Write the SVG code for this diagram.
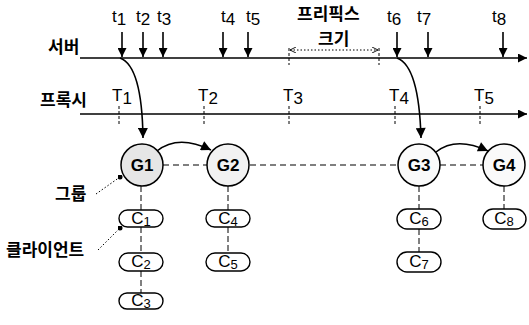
<svg xmlns="http://www.w3.org/2000/svg" width="529" height="325" viewBox="0 0 529 325">
<defs>
<marker id="ah" viewBox="0 0 10 10" refX="10" refY="5" markerWidth="13" markerHeight="9" markerUnits="userSpaceOnUse" orient="auto"><path d="M0,0 L10,5 L0,10 Z" fill="#000"/></marker>
<marker id="ahBig" viewBox="0 0 10 10" refX="10" refY="5" markerWidth="14" markerHeight="10" markerUnits="userSpaceOnUse" orient="auto"><path d="M0,0 L10,5 L0,10 Z" fill="#000"/></marker>
<marker id="ahT" viewBox="0 0 10 10" refX="10" refY="5" markerWidth="13" markerHeight="9" markerUnits="userSpaceOnUse" orient="auto"><path d="M0,0 L10,5 L0,10 Z" fill="#000"/></marker>
<marker id="open" viewBox="0 0 10 10" refX="10" refY="5" markerWidth="6" markerHeight="6" markerUnits="userSpaceOnUse" orient="auto-start-reverse"><path d="M0,0 L10,5 L0,10" fill="none" stroke="#000" stroke-width="1.5"/></marker>
<marker id="dot" viewBox="0 0 10 10" refX="5" refY="5" markerWidth="5" markerHeight="5" markerUnits="userSpaceOnUse"><circle cx="5" cy="5" r="5" fill="#000"/></marker>
</defs>
<style>
text{font-family:"Liberation Sans","Noto Sans CJK KR",Arial,sans-serif;fill:#000}
.kr{font-size:17px;font-weight:bold;font-family:"Noto Sans CJK KR","Liberation Sans",sans-serif}
.tl{font-size:17px}
.g{font-size:17px;font-weight:bold;text-anchor:middle}
.c{font-size:17px;text-anchor:middle}
.line{stroke:#000;stroke-width:1.6;fill:none}
.tick{stroke:#000;stroke-width:1;stroke-dasharray:3,2;fill:none}
.dash{stroke:#000;stroke-width:1.1;stroke-dasharray:6,4;fill:none}
.vdash{stroke:#000;stroke-width:1;stroke-dasharray:6,3;fill:none}
.dotted{stroke:#000;stroke-width:1;stroke-dasharray:1.5,2;fill:none}
.circ{stroke:#000;stroke-width:1.5}
.pill{stroke:#000;stroke-width:1.4;fill:#fff}
</style>
<g id="connectors">
<line class="line" x1="80" y1="58" x2="527" y2="58" marker-end="url(#ahT)"/>
<line class="line" x1="80" y1="114" x2="527" y2="114" marker-end="url(#ahT)"/>
<line class="line" x1="122" y1="32" x2="122" y2="57" marker-end="url(#ah)"/>
<line class="line" x1="143" y1="32" x2="143" y2="57" marker-end="url(#ah)"/>
<line class="line" x1="163" y1="32" x2="163" y2="57" marker-end="url(#ah)"/>
<line class="line" x1="223" y1="32" x2="223" y2="57" marker-end="url(#ah)"/>
<line class="line" x1="248" y1="32" x2="248" y2="57" marker-end="url(#ah)"/>
<line class="line" x1="397" y1="32" x2="397" y2="57" marker-end="url(#ah)"/>
<line class="line" x1="428" y1="32" x2="428" y2="57" marker-end="url(#ah)"/>
<line class="line" x1="503" y1="32" x2="503" y2="57" marker-end="url(#ah)"/>
<line class="tick" x1="289" y1="48" x2="289" y2="65"/>
<line class="tick" x1="379" y1="48" x2="379" y2="65"/>
<line class="dotted" x1="290" y1="50" x2="378" y2="50" marker-start="url(#open)" marker-end="url(#open)"/>
<line class="tick" x1="119" y1="106" x2="119" y2="126"/>
<line class="tick" x1="204" y1="106" x2="204" y2="126"/>
<line class="tick" x1="289" y1="106" x2="289" y2="126"/>
<line class="tick" x1="395" y1="106" x2="395" y2="126"/>
<line class="tick" x1="480" y1="106" x2="480" y2="126"/>
<path class="line" d="M120,58 Q142,66 143,138" marker-end="url(#ahBig)"/>
<path class="line" d="M397,58 Q419,66 421,138" marker-end="url(#ahBig)"/>
<line class="dash" x1="163" y1="165" x2="207" y2="165"/>
<line class="dash" x1="250" y1="165" x2="398" y2="165"/>
<line class="dash" x1="440" y1="165" x2="483" y2="165"/>
<path class="line" d="M157,151 Q178,134 211,150" marker-end="url(#ahBig)"/>
<path class="line" d="M436,152 Q456,136 488,151" marker-end="url(#ahBig)"/>
<line class="vdash" x1="141" y1="186" x2="141" y2="210"/>
<line class="vdash" x1="141" y1="227" x2="141" y2="253"/>
<line class="vdash" x1="141" y1="271" x2="141" y2="293"/>
<line class="vdash" x1="228" y1="186" x2="228" y2="210"/>
<line class="vdash" x1="228" y1="227" x2="228" y2="253"/>
<line class="vdash" x1="419" y1="186" x2="419" y2="209"/>
<line class="vdash" x1="419" y1="229" x2="419" y2="252"/>
<line class="vdash" x1="504" y1="186" x2="504" y2="209"/>
<line class="dotted" x1="96" y1="194" x2="120" y2="177" marker-end="url(#dot)"/>
<line class="dotted" x1="98" y1="250" x2="120" y2="228" marker-end="url(#dot)"/>
</g>
<g id="labels">
<text class="kr" x="48" y="53">서버</text>
<text class="kr" x="40" y="106">프록시</text>
<text class="kr" x="297" y="20">프리픽스</text>
<text class="kr" x="318" y="45">크기</text>
<text class="tl" x="112" y="22">t<tspan dy="3">1</tspan></text>
<text class="tl" x="136" y="22">t<tspan dy="3">2</tspan></text>
<text class="tl" x="157" y="22">t<tspan dy="3">3</tspan></text>
<text class="tl" x="221" y="22">t<tspan dy="3">4</tspan></text>
<text class="tl" x="246" y="22">t<tspan dy="3">5</tspan></text>
<text class="tl" x="387" y="22">t<tspan dy="3">6</tspan></text>
<text class="tl" x="417" y="22">t<tspan dy="3">7</tspan></text>
<text class="tl" x="492" y="22">t<tspan dy="3">8</tspan></text>
<text class="tl" x="112" y="101">T<tspan dy="3">1</tspan></text>
<text class="tl" x="198" y="101">T<tspan dy="3">2</tspan></text>
<text class="tl" x="283" y="101">T<tspan dy="3">3</tspan></text>
<text class="tl" x="389" y="101">T<tspan dy="3">4</tspan></text>
<text class="tl" x="474" y="101">T<tspan dy="3">5</tspan></text>
<text class="kr" x="55" y="200">그룹</text>
<text class="kr" x="6" y="256">클라이언트</text>
</g>
<g id="G1"><circle class="circ" cx="142" cy="165" r="21" fill="#e6e6e6"/><text class="g" x="142" y="171">G1</text></g>
<g id="G2"><circle class="circ" cx="228" cy="165" r="21" fill="#f2f2f2"/><text class="g" x="228" y="171">G2</text></g>
<g id="G3"><circle class="circ" cx="419" cy="165" r="21" fill="#fafafa"/><text class="g" x="419" y="171">G3</text></g>
<g id="G4"><circle class="circ" cx="504" cy="165" r="21" fill="#fafafa"/><text class="g" x="504" y="171">G4</text></g>
<g id="C1"><rect class="pill" x="119" y="210" width="44" height="17" rx="8.5"/><text class="c" x="141" y="224">C<tspan font-size="13" dy="2">1</tspan></text></g>
<g id="C2"><rect class="pill" x="119" y="253" width="44" height="18" rx="9"/><text class="c" x="141" y="267">C<tspan font-size="13" dy="2">2</tspan></text></g>
<g id="C3"><rect class="pill" x="119" y="293" width="44" height="16" rx="8"/><text class="c" x="141" y="306">C<tspan font-size="13" dy="2">3</tspan></text></g>
<g id="C4"><rect class="pill" x="206" y="210" width="44" height="17" rx="8.5"/><text class="c" x="228" y="224">C<tspan font-size="13" dy="2">4</tspan></text></g>
<g id="C5"><rect class="pill" x="206" y="253" width="44" height="18" rx="9"/><text class="c" x="228" y="267">C<tspan font-size="13" dy="2">5</tspan></text></g>
<g id="C6"><rect class="pill" x="397" y="209" width="44" height="20" rx="10"/><text class="c" x="419" y="224">C<tspan font-size="13" dy="2">6</tspan></text></g>
<g id="C7"><rect class="pill" x="397" y="252" width="44" height="20" rx="10"/><text class="c" x="419" y="267">C<tspan font-size="13" dy="2">7</tspan></text></g>
<g id="C8"><rect class="pill" x="483" y="209" width="43" height="20" rx="10"/><text class="c" x="504" y="224">C<tspan font-size="13" dy="2">8</tspan></text></g>
</svg>
